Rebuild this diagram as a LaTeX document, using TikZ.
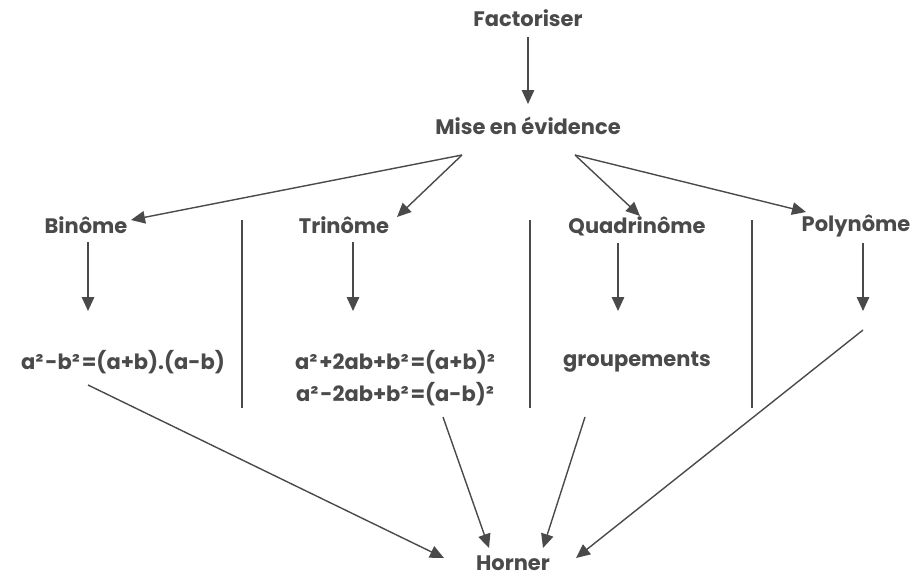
\documentclass[tikz,border=0pt]{standalone}
\usepackage{fontspec}
\setmainfont{Poppins}[UprightFont=* Bold]
\usetikzlibrary{arrows.meta}
\definecolor{ink}{HTML}{4A4A4A}
\newcommand{\sq}{²\kern2pt}
\tikzset{
  lbl/.style={text=ink,font=\fontsize{21}{26}\selectfont,inner sep=0pt},
  conn/.style={draw=ink,line width=1.4pt,-{Triangle[length=14pt,width=12.5pt]}},
  sep/.style={draw=ink,line width=1.3pt}
}
\begin{document}
\begin{tikzpicture}[x=1pt,y=-1pt]
\useasboundingbox (0,0) rectangle (912,576);
% nodes
\node[lbl] (fac) at (528,18) {Factoriser};
\node[lbl] (mise) at (528,126) {Mise en évidence};
\node[lbl] (bin) at (86,225) {Binôme};
\node[lbl] (tri) at (344,225) {Trinôme};
\node[lbl] (qua) at (637,226) {Quadrinôme};
\node[lbl] (pol) at (856,226) {Polynôme};
\node[lbl] (fbin) at (123,362) {a\sq-b\sq=(a+b).(a-b)};
\node[lbl,align=center] (ftri) at (395,378) {a\sq+2ab+b\sq=(a+b)²\\[6pt]a\sq-2ab+b\sq=(a-b)²};
\node[lbl] (grp) at (637,362) {groupements};
\node[lbl] (hor) at (513,563) {Horner};
% connector end points
\coordinate (facS) at (528,37);
\coordinate (miseN) at (528,104);
\coordinate (miseL) at (462,155);
\coordinate (miseR) at (575,155);
\coordinate (binE) at (131,220);
\coordinate (triE) at (397,217);
\coordinate (quaN) at (640,216);
\coordinate (polW) at (806,212);
\coordinate (binS) at (88,242);
\coordinate (fbinN) at (88,311);
\coordinate (triS) at (353,242);
\coordinate (ftriN) at (353,311);
\coordinate (quaS) at (618,243);
\coordinate (grpN) at (618,311);
\coordinate (polS) at (863,243);
\coordinate (polB) at (863,311);
\coordinate (fbinS) at (88,385);
\coordinate (ftriS) at (443,417);
\coordinate (grpS) at (585,417);
\coordinate (polL) at (863,330);
\coordinate (horA) at (444,558);
\coordinate (horB) at (489,548);
\coordinate (horC) at (543,548);
\coordinate (horD) at (576,558);
% separators
\coordinate (s1t) at (242,220); \coordinate (s1b) at (242,408);
\coordinate (s2t) at (530,220); \coordinate (s2b) at (530,408);
\coordinate (s3t) at (752,220); \coordinate (s3b) at (752,408);
\draw[sep] (s1t) -- (s1b);
\draw[sep] (s2t) -- (s2b);
\draw[sep] (s3t) -- (s3b);
% connectors
\draw[conn] (facS) -- (miseN);
\draw[conn] (miseL) -- (binE);
\draw[conn] (miseL) -- (triE);
\draw[conn] (miseR) -- (quaN);
\draw[conn] (miseR) -- (polW);
\draw[conn] (binS) -- (fbinN);
\draw[conn] (triS) -- (ftriN);
\draw[conn] (quaS) -- (grpN);
\draw[conn] (polS) -- (polB);
\draw[conn] (fbinS) -- (horA);
\draw[conn] (ftriS) -- (horB);
\draw[conn] (grpS) -- (horC);
\draw[conn] (polL) -- (horD);
\end{tikzpicture}
\end{document}
